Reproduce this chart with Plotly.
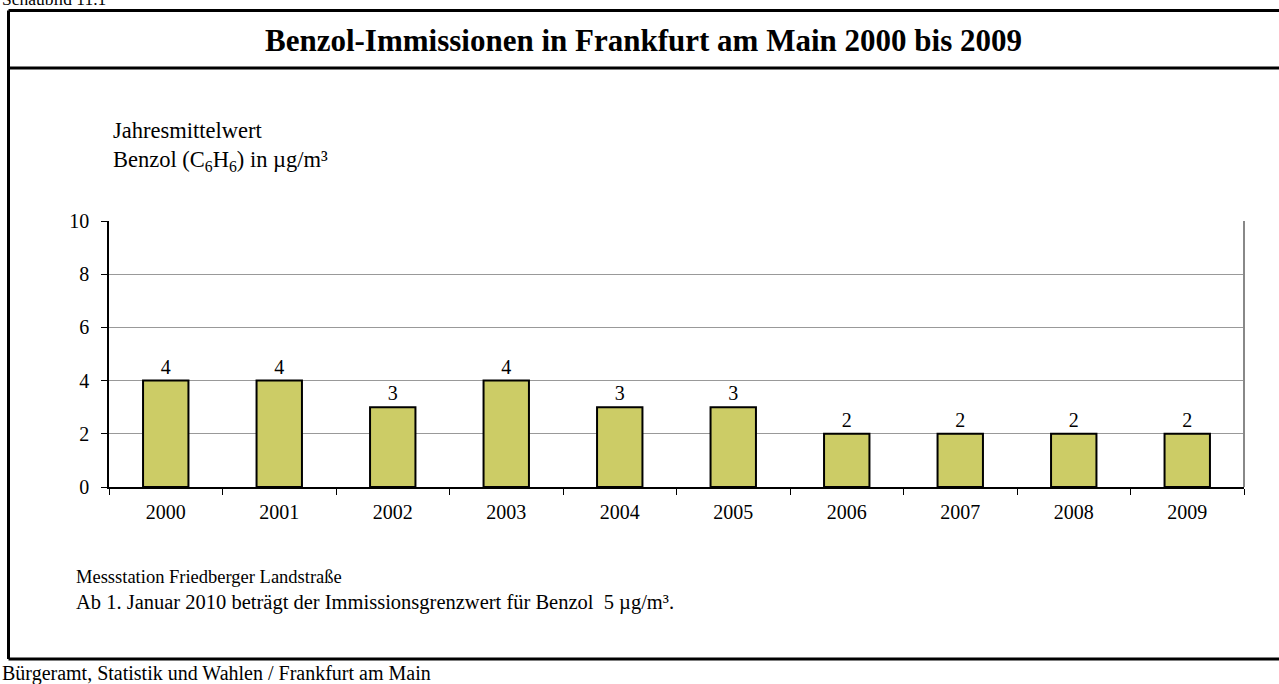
import plotly.graph_objects as go

years = ['2000', '2001', '2002', '2003', '2004', '2005', '2006', '2007', '2008', '2009']
benzol = [4, 4, 3, 4, 3, 3, 2, 2, 2, 2]
y_ticks = [0, 2, 4, 6, 8, 10]

W, H = 1279, 684
L, R, T, B = 109, 1244, 221, 487  # plot area in px


def px_x(x):
    return (x - L) / (R - L)


def px_y(y):
    return (B - y) / (B - T)


FONT = 'Liberation Serif, Times New Roman, serif'

fig = go.Figure()
fig.add_trace(go.Bar(
    x=years,
    y=benzol,
    width=0.4,
    marker=dict(color='#CCCC66', line=dict(color='black', width=2)),
    text=[str(v) for v in benzol],
    textposition='outside',
    textfont=dict(size=20, color='black', family=FONT),
    cliponaxis=False,
    hoverinfo='skip'
))

shapes = []
# outer frame
for x0, y0, x1, y1 in [
    (8.5, 10.5, 1285, 10.5),
    (8.5, 68, 1285, 68),
    (8.5, 659, 1285, 659),
    (8.5, 10.5, 8.5, 659),
]:
    shapes.append(dict(type='line', xref='paper', yref='paper',
                       x0=px_x(x0), x1=px_x(x1), y0=px_y(y0), y1=px_y(y1),
                       line=dict(color='black', width=3)))
# right border of plot area
shapes.append(dict(type='line', xref='paper', yref='paper',
                   x0=1, x1=1, y0=0, y1=1,
                   line=dict(color='#888888', width=2)))

annotations = [
    dict(text='<b>Benzol-Immissionen in Frankfurt am Main 2000 bis 2009</b>',
         x=px_x(643), y=px_y(40), xanchor='center', yanchor='middle',
         font=dict(size=31)),
    dict(text='Jahresmittelwert<br>Benzol (C<sub>6</sub>H<sub>6</sub>) in µg/m³',
         x=px_x(111), y=px_y(116), xanchor='left', yanchor='top', align='left',
         font=dict(size=22.5)),
    dict(text='Messstation Friedberger Landstraße',
         x=px_x(74), y=px_y(577), xanchor='left', yanchor='middle', font=dict(size=18.5)),
    dict(text='Ab 1. Januar 2010 beträgt der Immissionsgrenzwert für Benzol  5 µg/m³.',
         x=px_x(74), y=px_y(602), xanchor='left', yanchor='middle', font=dict(size=20.5)),
    dict(text='Bürgeramt, Statistik und Wahlen / Frankfurt am Main',
         x=px_x(0), y=px_y(673), xanchor='left', yanchor='middle', font=dict(size=20)),
    dict(text='Schaubild 11.1',
         x=px_x(0), y=px_y(-1), xanchor='left', yanchor='middle', font=dict(size=17.5)),
]
for a in annotations:
    a.update(xref='paper', yref='paper', showarrow=False)

fig.update_layout(
    width=W, height=H,
    margin=dict(l=L, r=W - R, t=T, b=H - B, pad=0),
    paper_bgcolor='white', plot_bgcolor='white',
    font=dict(family=FONT, color='black'),
    showlegend=False,
    shapes=shapes,
    annotations=annotations,
    xaxis=dict(
        tickfont=dict(size=20), ticks='outside', tickson='boundaries',
        ticklen=6, tickcolor='black', tickwidth=1, ticklabelstandoff=6,
        showline=True, linecolor='black', linewidth=1.5,
        showgrid=False,
    ),
    yaxis=dict(
        range=[0, 10], tickvals=y_ticks, tickfont=dict(size=20),
        ticks='outside', ticklen=6, tickcolor='black', tickwidth=1,
        ticklabelstandoff=8,
        showline=True, linecolor='black', linewidth=1.5,
        showgrid=True, gridcolor='#999999', gridwidth=1, zeroline=False,
    ),
)

fig.write_html('out.html', config={'displayModeBar': False},
               post_script="document.body.style.margin='0px';document.body.style.overflow='hidden';")
